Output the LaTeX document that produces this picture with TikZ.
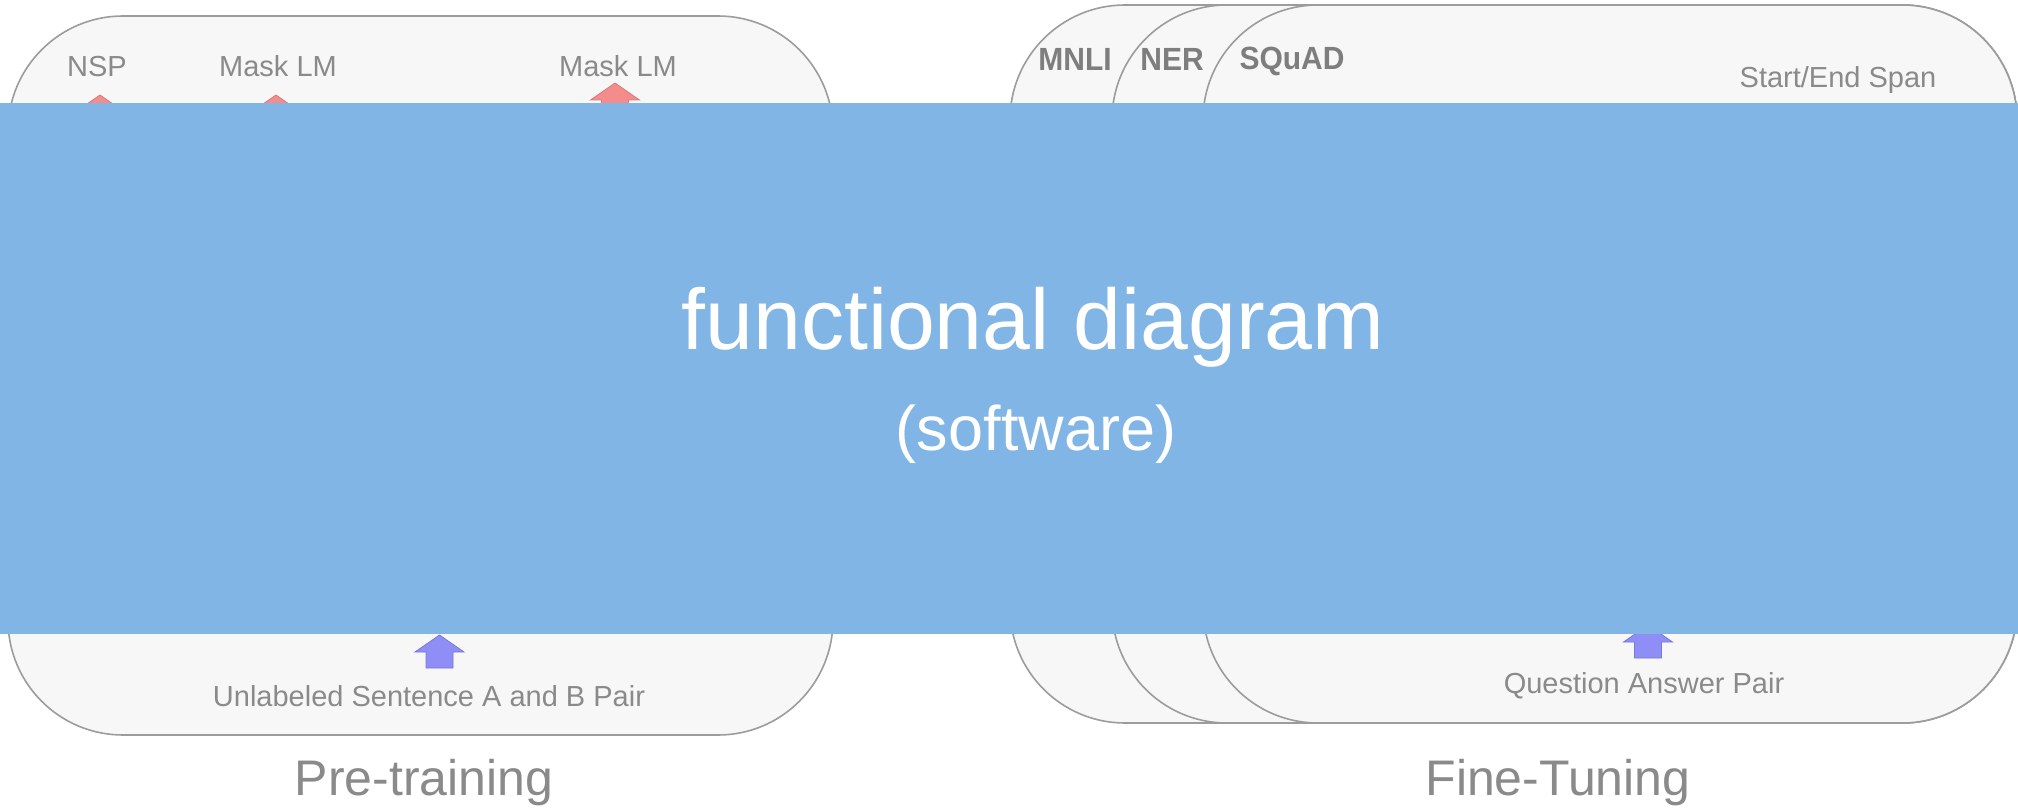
\documentclass[tikz,border=0pt]{standalone}
\usepackage{fontspec}
\setmainfont{Liberation Sans}

\definecolor{boxfill}{HTML}{F7F7F7}
\definecolor{boxline}{HTML}{9C9C9C}
\definecolor{labelgray}{HTML}{8A8A8A}
\definecolor{taskgray}{HTML}{7E7E7E}
\definecolor{mlmred}{HTML}{F48C8C}
\definecolor{inputblue}{HTML}{8E8EF6}
\definecolor{bannerblue}{HTML}{80B5E5}

\begin{document}
\begin{tikzpicture}[x=1pt,y=-1pt,
  panel/.style={draw=boxline, line width=1.6pt, fill=boxfill, rounded corners=115pt,
    inner sep=0pt, outer sep=0pt, anchor=north west},
  lbl/.style={text=labelgray, font=\fontsize{29}{34}\selectfont, anchor=base, inner sep=0pt},
  task/.style={text=taskgray, font=\bfseries\fontsize{30}{36}\selectfont, anchor=base,
    inner sep=0pt, yscale=1.07},
  stage/.style={text=labelgray, font=\fontsize{50}{60}\selectfont, anchor=base, inner sep=0pt},
  bannertext/.style={text=white, anchor=base, inner sep=0pt},
  upblock/.pic={\path[pic actions] (0,0) -- (24.5,17) -- (13.5,17) -- (13.5,33)
      -- (-13.5,33) -- (-13.5,17) -- (-24.5,17) -- cycle;},
  redarrow/.style={fill=mlmred, draw=mlmred!88!black, line width=0.8pt},
  bluearrow/.style={fill=inputblue, draw=inputblue!85!black, line width=0.8pt},
]
\useasboundingbox (0,0) rectangle (2018,810);
\fill[white] (0,0) rectangle (2018,810);

% pre-training panel
\node[panel, minimum width=825pt, minimum height=719pt] (pretrain) at (8,16) {};
\node[lbl] (nsp) at (97,77) {NSP};
\node[lbl] (mlmA) at (278,77) {Mask LM};
\node[lbl] (mlmB) at (618,77) {Mask LM};
\pic[redarrow] at (100,95) {upblock};
\pic[redarrow] at (276,95) {upblock};
\pic[redarrow] at (615,83) {upblock};
\pic[bluearrow] at (439.5,635) {upblock};
\node[lbl] (pairA) at (429,706) {Unlabeled Sentence A and B Pair};

% fine-tuning panels, stacked back to front
\node[panel, minimum width=1007pt, minimum height=718pt] (mnli) at (1010,5) {};
\node[panel, minimum width=905pt, minimum height=718pt] (ner) at (1112,5) {};
\node[panel, minimum width=814pt, minimum height=718pt] (squad) at (1203,5) {};
\node[task] (mnlilbl) at (1075,71) {MNLI};
\node[task] (nerlbl) at (1172,71) {NER};
\node[task] (squadlbl) at (1292,70) {SQuAD};
\node[lbl] (span) at (1838,88) {Start/End Span};
\pic[bluearrow] at (1648,625) {upblock};
\node[lbl] (qapair) at (1644,693) {Question Answer Pair};

% stage captions
\node[stage] (pretraincap) at (424,795) {Pre-training};
\node[stage] (finetunecap) at (1558,795) {Fine-Tuning};

% banner across the middle
\fill[bannerblue] (0,103) rectangle (2018,634);
\node[bannertext, font=\fontsize{86}{100}\selectfont] (title) at (1033,349) {functional diagram};
\node[bannertext, font=\fontsize{63}{74}\selectfont] (subtitle) at (1036,450) {(software)};
\end{tikzpicture}
\end{document}
